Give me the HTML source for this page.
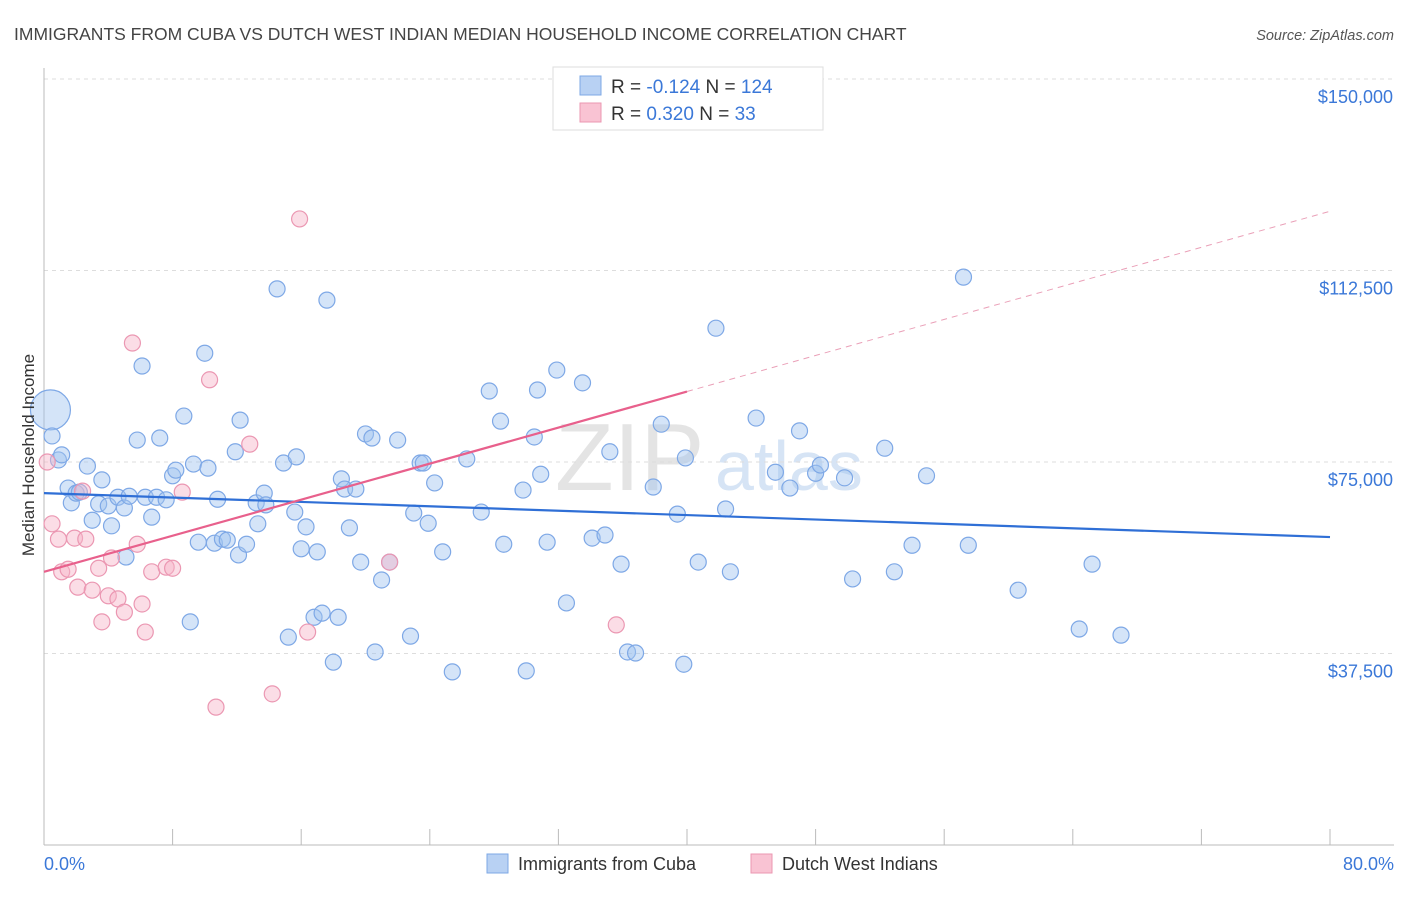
<!DOCTYPE html>
<html><head><meta charset="utf-8"><style>
body{margin:0;background:#fff;font-family:"Liberation Sans",sans-serif;}
svg text{font-family:"Liberation Sans",sans-serif;}
</style></head><body>
<svg id="chart" width="1406" height="892" xmlns="http://www.w3.org/2000/svg">
<text x="14" y="40" font-size="17.5" fill="#444">IMMIGRANTS FROM CUBA VS DUTCH WEST INDIAN MEDIAN HOUSEHOLD INCOME CORRELATION CHART</text>
<text x="1394" y="40" font-size="14.5" fill="#555" text-anchor="end" font-style="italic">Source: ZipAtlas.com</text>
<text x="555" y="490" font-size="96" fill="#e4e4e4" font-family="Liberation Serif">ZIP</text>
<text x="715" y="490" font-size="70" fill="#d6e4f5">atlas</text>
<g id="grid"></g>
<g id="axes"></g>
<g id="blue-pts"></g>
<g id="pink-pts"></g>
<g id="trends"></g>
<text transform="translate(34,455) rotate(-90)" font-size="17" fill="#333" text-anchor="middle">Median Household Income</text>
<g>
<rect x="553" y="67" width="270" height="63" fill="#fff" stroke="#ddd"/>
<rect x="580" y="76" width="21" height="19" fill="#b8d1f3" stroke="#7ea8e6"/>
<rect x="580" y="103" width="21" height="19" fill="#f9c3d3" stroke="#eb97b2"/>
<text x="611" y="93" font-size="19" fill="#333">R = <tspan fill="#3b78d8">-0.124</tspan>   N = <tspan fill="#3b78d8">124</tspan></text>
<text x="611" y="120" font-size="19" fill="#333">R =  <tspan fill="#3b78d8">0.320</tspan>   N =   <tspan fill="#3b78d8">33</tspan></text>
</g>
<g>
<rect x="487" y="854" width="21" height="19" fill="#b8d1f3" stroke="#7ea8e6"/>
<text x="518" y="870" font-size="18" fill="#333">Immigrants from Cuba</text>
<rect x="751" y="854" width="21" height="19" fill="#f9c3d3" stroke="#eb97b2"/>
<text x="782" y="870" font-size="18" fill="#333">Dutch West Indians</text>
</g>
</svg>
<script>
const yTicks=[37500,75000,112500,150000];
const yTickLabels=["$37,500","$75,000","$112,500","$150,000"];
const xTickLabels=["0.0%","80.0%"];
const blueX=[0.4,0.5,0.9,1.1,1.5,1.7,2.0,2.2,2.7,3.0,3.4,3.6,4.0,4.2,4.6,5.0,5.1,5.3,5.8,6.1,6.3,6.7,7.0,7.2,7.6,8.0,8.2,8.7,9.1,9.3,9.6,10.0,10.2,10.6,10.8,11.1,11.4,11.9,12.1,12.2,12.6,13.2,13.3,13.7,13.8,14.5,14.9,15.2,15.6,15.7,16.0,16.3,16.8,17.0,17.3,17.6,18.0,18.3,18.5,18.7,19.0,19.4,19.7,20.0,20.4,20.6,21.0,21.5,22.0,22.8,23.0,23.4,23.6,23.9,24.3,24.8,25.4,26.3,27.2,27.7,28.4,28.6,29.8,30.0,30.5,30.7,30.9,31.3,31.9,32.5,33.5,34.1,34.9,35.2,35.9,36.3,36.8,37.9,38.4,39.4,39.8,39.9,40.7,41.8,42.4,42.7,44.3,45.5,46.4,47.0,48.0,48.3,49.8,50.3,52.3,52.9,54.0,54.9,57.2,57.5,60.6,64.4,65.2,67.0];
const blueY=[85.2,80.1,75.4,76.4,69.9,67.0,68.9,69.1,74.2,63.6,66.8,71.5,66.4,62.5,68.1,66.0,56.4,68.3,79.3,93.8,68.1,64.2,68.1,79.7,67.6,72.3,73.4,84.0,43.7,74.6,59.3,96.3,73.8,59.1,67.7,59.9,59.7,77.0,56.8,83.2,58.9,67.0,62.9,68.9,66.6,108.9,74.8,40.7,65.2,76.0,58.0,62.3,44.6,57.4,45.4,106.7,35.8,44.6,71.7,69.7,62.1,69.7,55.4,80.5,79.7,37.8,51.9,55.4,79.3,40.9,65.0,74.8,74.8,63.0,70.9,57.4,33.9,75.6,65.2,88.9,83.0,58.9,69.5,34.1,79.9,89.1,72.6,59.3,93.0,47.4,90.5,60.1,60.7,77.0,55.0,37.8,37.6,70.1,82.4,64.8,35.4,75.8,55.4,101.2,65.8,53.5,83.6,73.0,69.9,81.1,72.8,74.4,71.9,52.1,77.7,53.5,58.7,72.3,111.2,58.7,49.9,42.3,55.0,41.1];
const pinkX=[0.2,0.5,0.9,1.1,1.5,1.9,2.1,2.4,2.6,3.0,3.4,3.6,4.0,4.2,4.6,5.0,5.5,5.8,6.1,6.3,6.7,7.6,8.0,8.6,10.3,10.7,12.8,14.2,15.9,16.4,21.5,35.6];
const pinkY=[75.0,62.9,59.9,53.5,54.0,60.1,50.5,69.3,59.9,49.9,54.2,43.7,48.8,56.2,48.2,45.6,98.3,58.9,47.2,41.7,53.5,54.4,54.2,69.1,91.1,27.0,78.5,29.6,122.6,41.7,55.4,43.1];
const blueTrend=[68.9,60.3];
const pinkTrend=[53.5,124.1];
const NS="http://www.w3.org/2000/svg";
const X=v=>44+v/80*1286;
const Y=k=>845-k*1000/37500*191.5;
function mk(tag,attrs,parent){const e=document.createElementNS(NS,tag);for(const k in attrs)e.setAttribute(k,attrs[k]);parent.appendChild(e);return e;}
const grid=document.getElementById('grid'),axes=document.getElementById('axes');
yTicks.forEach((t,i)=>{
 const l=mk('line',{x1:44,x2:1394,y1:Y(t/1000),y2:Y(t/1000),stroke:'#ddd','stroke-dasharray':'4,4'},grid);
 
 
 const tx=mk('text',{x:1393,y:Y(t/1000)+24,'font-size':18,fill:'#3b78d8','text-anchor':'end'},axes);
 tx.textContent=yTickLabels[i];
 
 
});
const gl=mk('line',{x1:44,x2:1394,y1:Y(150),y2:Y(150),stroke:'#ddd','stroke-dasharray':'4,4'},grid);
const ya=mk('line',{x1:44,x2:44,y1:68,y2:845,stroke:'#bbb'},axes);


const xa=mk('line',{x1:44,x2:1394,y1:845,y2:845,stroke:'#bbb'},axes);


for(let i=0;i<=10;i++){const t=mk('line',{x1:X(i*8),x2:X(i*8),y1:829,y2:845,stroke:'#bbb'},axes);
 
 }
[[0,'start',44],[80,'end',1394]].forEach((a,i)=>{const t=mk('text',{x:a[2],y:870,'font-size':18,fill:'#3b78d8','text-anchor':a[1]},axes);t.textContent=xTickLabels[i];
 
 });
const bp=document.getElementById('blue-pts');
blueX.forEach((x,i)=>{const c=mk('circle',{cx:X(x),cy:Y(blueY[i]),r:i===0?20:8,fill:'rgba(160,195,240,0.45)',stroke:'#7ea8e6','stroke-width':1.2},bp);
 
 });
const pp=document.getElementById('pink-pts');
pinkX.forEach((x,i)=>{const c=mk('circle',{cx:X(x),cy:Y(pinkY[i]),r:8,fill:'rgba(247,180,200,0.45)',stroke:'#eb97b2','stroke-width':1.2},pp);
 
 });
const tr=document.getElementById('trends');
const b=mk('line',{x1:X(0),y1:Y(blueTrend[0]),x2:X(80),y2:Y(blueTrend[1]),stroke:'#2f6fd6','stroke-width':2.2},tr);


const pm=k=>pinkTrend[0]+(pinkTrend[1]-pinkTrend[0])*k/80;
const p1=mk('line',{x1:X(0),y1:Y(pm(0)),x2:X(40),y2:Y(pm(40)),stroke:'#e8608c','stroke-width':2.2},tr);


const p2=mk('line',{x1:X(40),y1:Y(pm(40)),x2:X(80),y2:Y(pm(80)),stroke:'#eaa0b8','stroke-width':1,'stroke-dasharray':'6,5'},tr);


</script>
</body></html>
